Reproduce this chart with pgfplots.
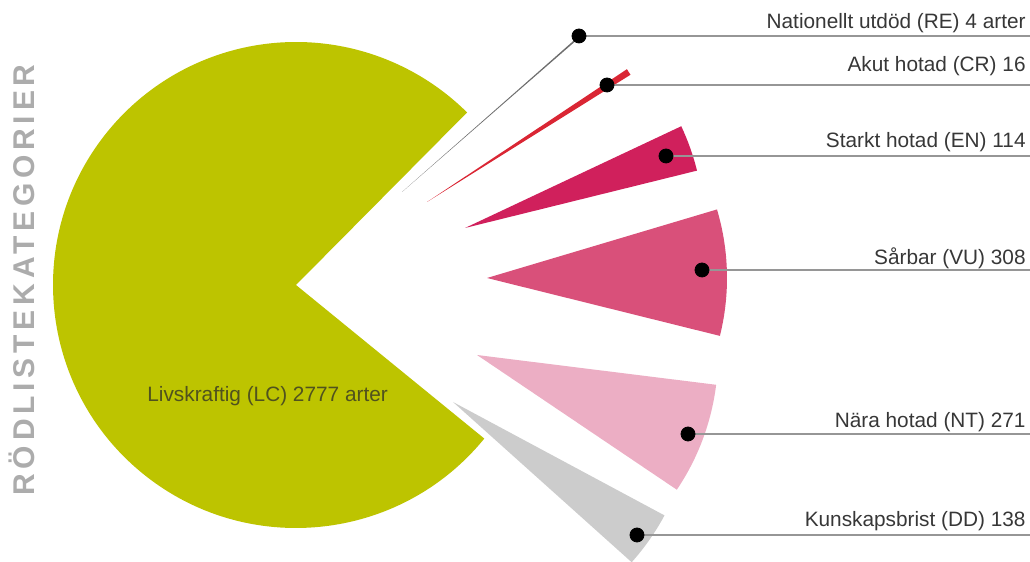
\documentclass[border=0pt]{standalone}
\usepackage{pgfplots}
\pgfplotsset{compat=1.18}
\usepackage{fontspec}
\setmainfont{Liberation Sans}
\definecolor{lc}{RGB}{189,196,0}
\definecolor{re}{RGB}{110,110,110}
\definecolor{cr}{RGB}{218,38,52}
\definecolor{en}{RGB}{208,32,92}
\definecolor{vu}{RGB}{217,80,122}
\definecolor{nt}{RGB}{236,174,196}
\definecolor{dd}{RGB}{204,204,204}
\definecolor{leader}{RGB}{150,150,150}
\definecolor{lbl}{RGB}{55,55,55}
\definecolor{lclbl}{RGB}{80,82,30}
\definecolor{ttl}{RGB}{172,172,172}
% slice: vertex x, vertex y, start angle, count, radius, colour (total = 3628 species)
\newcommand{\slice}[6]{%
  \fill[#6] (axis cs:#1,#2) -- ++({#3}:{#5*0.5pt})
    arc[start angle={#3}, delta angle={-#4/3628*360}, radius={#5*0.5pt}] -- cycle;}
\begin{document}
\begin{tikzpicture}
\begin{axis}[x=0.5pt, y=0.5pt, xmin=0, xmax=1030, ymin=0, ymax=562,
  hide axis, clip=false, scale only axis]
% LC 2777
\slice{296}{277}{-39.2}{2777}{243}{lc}
% RE 4
\slice{402}{370}{41.4}{4}{236}{re}
% CR 16
\slice{427}{360}{33.6}{16}{240}{cr}
% EN 114
\slice{465}{334}{25.2}{114}{239}{en}
% VU 308
\slice{487}{284}{16.6}{308}{240}{vu}
% NT 271
\slice{477}{207}{-7.1}{271}{241}{nt}
% DD 138
\slice{453}{160}{-28.2}{138}{240}{dd}
% leader lines
\addplot[leader, line width=0.75pt] coordinates {(579,526) (1030,526)};
\addplot[leader, line width=0.75pt] coordinates {(607,477) (1030,477)};
\addplot[leader, line width=0.75pt] coordinates {(666,406) (1030,406)};
\addplot[leader, line width=0.75pt] coordinates {(702,292) (1030,292)};
\addplot[leader, line width=0.75pt] coordinates {(688,128) (1030,128)};
\addplot[leader, line width=0.75pt] coordinates {(637,27) (1030,27)};
% dots
\addplot[only marks, mark=*, mark size=3.5pt, black] coordinates {
 (579,526) (607,477) (666,406) (702,292) (688,128) (637,27)};
% labels
\begin{scope}[every node/.style={font=\fontsize{10.4}{12}\selectfont, text=lbl, inner sep=0pt, anchor=base east}]
\node at (axis cs:1026,533) {Nationellt utdöd (RE) 4 arter};
\node at (axis cs:1026,490) {Akut hotad (CR) 16};
\node at (axis cs:1026,414) {Starkt hotad (EN) 114};
\node at (axis cs:1026,297) {Sårbar (VU) 308};
\node at (axis cs:1026,134) {Nära hotad (NT) 271};
\node at (axis cs:1026,35) {Kunskapsbrist (DD) 138};
\end{scope}
\node[font=\fontsize{10.4}{12}\selectfont, text=lclbl, inner sep=0pt, anchor=base west] at (axis cs:147,160) {Livskraftig (LC) 2777 arter};
\node[font=\fontsize{15}{17}\selectfont\bfseries\addfontfeature{LetterSpace=16}, text=ttl, inner sep=0pt, rotate=90, anchor=center] at (axis cs:22,282) {RÖDLISTEKATEGORIER};
\end{axis}
\pgfresetboundingbox
\path[use as bounding box] (current axis.south west) rectangle (current axis.north east);
\end{tikzpicture}
\end{document}
